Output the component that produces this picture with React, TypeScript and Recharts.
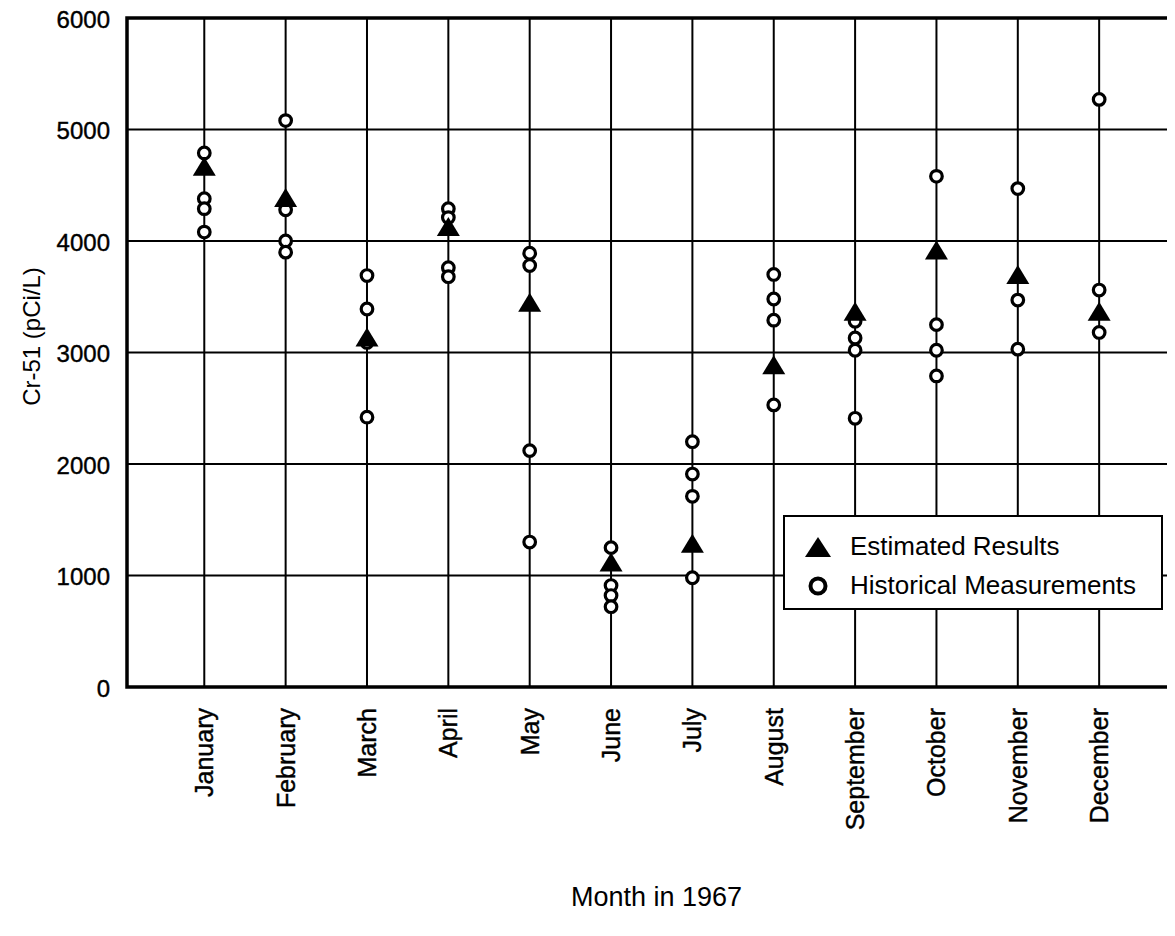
import React from "react";
import {
  ScatterChart,
  Scatter,
  XAxis,
  YAxis,
  CartesianGrid,
  ReferenceArea,
  Legend,
  Label,
} from "recharts";

const months = [
  "January", "February", "March", "April", "May", "June",
  "July", "August", "September", "October", "November", "December",
];

const estimatedResults = [4670, 4390, 3140, 4130, 3450, 1120, 1290, 2890, 3370, 3920, 3700, 3370];

const historicalMeasurements = [
  [4790, 4380, 4290, 4080],
  [5080, 4280, 4000, 3900],
  [3690, 3390, 3090, 2420],
  [4290, 4210, 3760, 3680],
  [3890, 3780, 2120, 1300],
  [1250, 910, 820, 720],
  [2200, 1910, 1710, 980],
  [3700, 3480, 3290, 2530],
  [3280, 3130, 3020, 2410],
  [4580, 3250, 3020, 2790],
  [4470, 3470, 3030],
  [5270, 3560, 3180],
];

const yTicks = [0, 1000, 2000, 3000, 4000, 5000, 6000];
const monthTicks = months.map((_, i) => i + 1);

const estData = estimatedResults.map((v, i) => ({ x: i + 1, y: v }));
const histData = historicalMeasurements.flatMap((arr, i) => arr.map((v) => ({ x: i + 1, y: v })));

const FONT = '"Liberation Sans", Arial, Helvetica, sans-serif';
const X_DOMAIN: [number, number] = [0.05, 12.92];

const Triangle = (props: any) => {
  const { cx, cy } = props;
  if (cx == null || cy == null) return null;
  const w = 11.5;
  const h = 9.5;
  return (
    <path
      d={`M${cx},${cy - h} L${cx + w},${cy + h} L${cx - w},${cy + h} Z`}
      fill="#000"
      stroke="none"
    />
  );
};

const Ring = (props: any) => {
  const { cx, cy } = props;
  if (cx == null || cy == null) return null;
  return <circle cx={cx} cy={cy} r={5.8} fill="#fff" stroke="#000" strokeWidth={3.2} />;
};

const YTick = (props: any) => {
  const { x, y, payload } = props;
  return (
    <text
      x={x}
      y={y + 1}
      textAnchor="end"
      dominantBaseline="central"
      fontSize={24}
      fontFamily={FONT}
      fill="#000"
      stroke="#000"
      strokeWidth={0.4}
    >
      {payload.value}
    </text>
  );
};

const XTick = (props: any) => {
  const { x, y, payload } = props;
  return (
    <text
      x={x}
      y={y}
      transform={`rotate(-90, ${x}, ${y})`}
      textAnchor="end"
      dy="0.36em"
      fontSize={25}
      fontFamily={FONT}
      fill="#000"
      stroke="#000"
      strokeWidth={0.4}
    >
      {months[payload.value - 1]}
    </text>
  );
};

const YLabel = (props: any) => {
  const vb = props.viewBox || {};
  const x = (vb.x ?? 0) + 23;
  const y = (vb.y ?? 0) + (vb.height ?? 0) / 2 - 16;
  return (
    <text
      x={x}
      y={y}
      transform={`rotate(-90, ${x}, ${y})`}
      textAnchor="middle"
      dominantBaseline="central"
      fontSize={24}
      fontFamily={FONT}
      fill="#000"
    >
      Cr-51 (pCi/L)
    </text>
  );
};

const XLabel = (props: any) => {
  const vb = props.viewBox || {};
  const x = (vb.x ?? 0) + (vb.width ?? 0) / 2 + 6;
  const y = (vb.y ?? 0) + 219;
  return (
    <text x={x} y={y} textAnchor="middle" fontSize={27} fontFamily={FONT} fill="#000">
      Month in 1967
    </text>
  );
};

const legendItems = [
  { name: "Estimated Results", kind: "tri" },
  { name: "Historical Measurements", kind: "ring" },
];

const LegendBox = () => (
  <div
    style={{
      width: 380,
      height: 95,
      boxSizing: "border-box",
      border: "2.5px solid #000",
      background: "#fff",
      paddingTop: 10,
      paddingLeft: 18,
      fontFamily: FONT,
      fontSize: 26,
      color: "#000",
    }}
  >
    {legendItems.map((it) => (
      <div key={it.name} style={{ display: "flex", alignItems: "center", height: 39, lineHeight: "39px" }}>
        <svg width={30} height={26} style={{ marginRight: 17 }}>
          {it.kind === "tri" ? (
            <path d="M15,3 L28,23 L2,23 Z" fill="#000" />
          ) : (
            <circle cx={15} cy={13} r={7.5} fill="#fff" stroke="#000" strokeWidth={4} />
          )}
        </svg>
        <span>{it.name}</span>
      </div>
    ))}
  </div>
);

export default function App() {
  return (
    <div style={{ marginTop: -8, width: 1167, height: 928 }}>
      <ScatterChart
        width={1167}
        height={928}
        margin={{ top: 18, right: 1, bottom: 0, left: 0 }}
        style={{ background: "#fff" }}
      >
        <CartesianGrid stroke="#000" strokeWidth={2} horizontal vertical />
        <XAxis
          type="number"
          dataKey="x"
          domain={X_DOMAIN}
          ticks={monthTicks}
          interval={0}
          height={241}
          axisLine={false}
          tickLine={false}
          tickSize={0}
          tickMargin={21}
          tick={<XTick />}
          allowDataOverflow
        >
          <Label content={<XLabel />} />
        </XAxis>
        <YAxis
          type="number"
          dataKey="y"
          domain={[0, 6000]}
          ticks={yTicks}
          interval={0}
          width={119}
          axisLine={false}
          tickLine={false}
          tickSize={0}
          tickMargin={17}
          tick={<YTick />}
          allowDataOverflow
        >
          <Label content={<YLabel />} />
        </YAxis>
        <ReferenceArea
          x1={X_DOMAIN[0]}
          x2={X_DOMAIN[1]}
          y1={0}
          y2={6000}
          fill="none"
          fillOpacity={0}
          stroke="#000"
          strokeWidth={3.5}
          ifOverflow="visible"
        />
        <Scatter name="Historical Measurements" data={histData} shape={<Ring />} isAnimationActive={false} />
        <Scatter name="Estimated Results" data={estData} shape={<Triangle />} isAnimationActive={false} />
        <Legend
          layout="vertical"
          align="center"
          verticalAlign="middle"
          content={<LegendBox />}
          wrapperStyle={{ left: 775, top: 515, width: 380, height: 95 }}
        />
      </ScatterChart>
    </div>
  );
}
